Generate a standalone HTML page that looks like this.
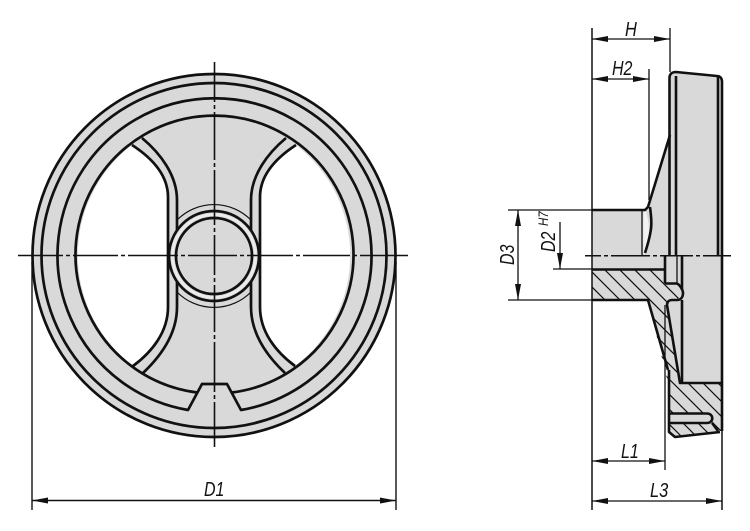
<!DOCTYPE html>
<html><head><meta charset="utf-8"><style>
html,body{margin:0;padding:0;background:#fff}
svg{display:block}
text{font-family:"Liberation Sans",sans-serif;font-style:italic;font-size:20px;fill:#111}
</style></head><body>
<svg width="750" height="531" viewBox="0 0 750 531" xmlns="http://www.w3.org/2000/svg">
<defs>
<clipPath id="sec">
<path d="M592 269H665V285H677L683 293L677 300H672L667 305L680 383H668L648 300H592Z"/>
<path d="M669 383H722V431H718L712 423L713 418L708 413H669Z"/>
<path d="M669 423H712L718 431L675 437L669 432Z"/>
</clipPath>
</defs>

<!-- Front view -->
<circle cx="214" cy="255.500" r="181.500" fill="#d9d9d9" stroke="#111" stroke-width="2.700"/>
<path d="M132 145A139 139 0 0 0 133 366C152 352 168 332 168 307V197C168 175 152 158 132 145Z" fill="#fff"/>
<path d="M296 145A139 139 0 0 1 295 366C276 352 260 332 260 307V197C260 175 276 158 296 145Z" fill="#fff"/>
<g fill="none" stroke="#111" stroke-width="2.700">
<circle cx="214" cy="255.500" r="172.500"/>
<path d="M188 410A157 157 0 1 1 241 410L227 384H202Z" stroke-linejoin="round"/>
<path d="M197 392.500A139 139 0 1 1 232 392.500"/>
<path d="M132 145C152 158 168 175 168 197V307C168 332 152 352 133 366"/>
<path d="M296 145C276 158 260 175 260 197V307C260 332 276 352 295 366"/>
<path d="M142 138C160 153 177 175 177 200V235M177 277V307C177 334 161 356 143 373"/>
<path d="M286 138C268 153 251 175 251 200V235M251 277V307C251 334 267 356 285 373"/>
<circle cx="214" cy="256" r="45" fill="#d9d9d9"/>
<circle cx="214" cy="256" r="38"/>
</g>
<circle cx="214" cy="256" r="41.500" fill="none" stroke="#ececec" stroke-width="2.500"/>
<path d="M177 220A52 52 0 0 1 251 220M177 292A52 52 0 0 0 251 292" fill="none" stroke="#111" stroke-width="1.200"/>
<g fill="none" stroke="#111" stroke-width="1.600">
<path d="M214.500 62V102M214.500 105V109M214.500 112V160M214.500 163V167M214.500 170V225M214.500 228V232M214.500 235V275M214.500 278V282M214.500 285V332M214.500 335V339M214.500 342V392M214.500 395V399M214.500 402V447"/>
<path d="M18 255.500H63M66 255.500H70M73 255.500H118M121 255.500H125M128 255.500H178M181 255.500H185M188 255.500H237M240 255.500H244M247 255.500H293M296 255.500H300M303 255.500H350M353 255.500H357M360 255.500H408"/>
</g>
<g fill="none" stroke="#111" stroke-width="1.400">
<path d="M32 262V510M396 262V510"/>
<path d="M32 500.500H396"/>
</g>
<path d="M32 500.500L48 497.500V503.500Z M396 500.500L380 497.500V503.500Z" fill="#111"/>
<text transform="translate(204 496) scale(.8 1)">D1</text>

<!-- Side view fills -->
<path d="M592 210H645L648 207L670 135V72L678 72L718 76L722 82V383H682V300H650H592Z" fill="#d9d9d9"/>
<path d="M643.500 212H646C650 225 650 238 644.500 254H643.500Z" fill="#f2f2f2"/>
<path d="M592 269H665V285H677L683 293L677 300H672L667 305L680 383H722V431L718 431L675 437L669 432V383L668 370L648 300H592Z" fill="#d9d9d9"/>
<path d="M651 258H665V269H651Z" fill="#d9d9d9"/>
<path d="M667 300H683V384H680Z" fill="#d9d9d9"/>

<!-- hatch -->
<g clip-path="url(#sec)" stroke="#111" stroke-width="1.200" fill="none">
<path d="M580 335L740 495M580 320L740 480M580 305L740 465M580 290L740 450M580 275L740 435M580 260L740 420M580 245L740 405M580 230L740 390M580 215L740 375M580 200L740 360M580 185L740 345"/>
</g>
<path d="M670 414H707C714 414 714 423 707 423H670Z" fill="#d9d9d9"/>

<!-- Side view outlines -->
<g fill="none" stroke="#111" stroke-width="2.600" stroke-linejoin="round">
<path d="M592 210H645L648 207L670 135"/>
<path d="M669.500 256V78C669.500 74 672 72 676 72L717 76C720 76 722 78 722 82V431"/>
<path d="M676 76V256M718 76V256"/>
<path d="M592 269.500H665V283.500M592 300H648L668 370M669 370V432L675 437L720 432"/>
<path d="M665 283.500H677C680 285 683 290 683 293C683 297 681 300 677 300H672C669 300 667 302 667 305L680 383H722"/>
<path d="M682 256V290M682 300V383"/>
<path d="M669 413.500H707C714 413.500 714 423 707 423H669"/>
<path d="M712 423L718 431"/>
<path d="M665 256V269"/>
<path d="M650 207C652 222 653 228 645 253"/>
</g>
<path d="M642 211V255M677 256V283" fill="none" stroke="#111" stroke-width="1.300"/>
<path d="M585 255.700H601M604 255.700H608M611 255.700H650M653 255.700H657M660 255.700H693M696 255.700H700M703 255.700H731" fill="none" stroke="#111" stroke-width="1.500"/>

<!-- Dimensions -->
<g fill="none" stroke="#111" stroke-width="1.500">
<path d="M592 28V510M722 431V510"/>
</g>
<g fill="none" stroke="#111" stroke-width="1.300">
<path d="M670 28V72M649 69V200M665 305V470"/>
<path d="M592 39H670M592 79H649M592 461H665M592 501H722"/>
<path d="M508 210H592M508 300H592M553 269H592"/>
<path d="M518 210V300M560 222V269"/>
</g>
<path d="M592 39L608 36V42Z M670 39L654 36V42Z M592 79L608 76V82Z M649 79L633 76V82Z M592 461L608 458V464Z M665 461L649 458V464Z M592 501L608 498V504Z M722 501L706 498V504Z M518 210L515 226H521Z M518 300L515 284H521Z M560 269L557 253H563Z" fill="#111"/>
<text transform="translate(625 36) scale(.82 1)">H</text>
<text transform="translate(612 75) scale(.8 1)">H2</text>
<text transform="translate(621 458) scale(.8 1)">L1</text>
<text transform="translate(650 497) scale(.82 1)">L3</text>
<text transform="translate(514 265) rotate(-90) scale(.8 1)">D3</text>
<text transform="translate(555 252) rotate(-90) scale(.8 1)">D2</text>
<text transform="translate(548 226) rotate(-90) scale(.82 1)" style="font-size:14px">H7</text>
</svg>
</body></html>
